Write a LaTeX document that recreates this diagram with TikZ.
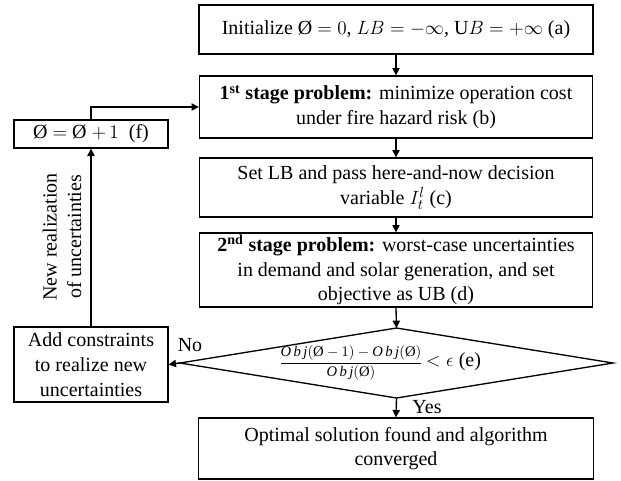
\documentclass[tikz,border=0pt]{standalone}
\usepackage{amsmath}
\usepackage{fontspec}
\setmainfont{Liberation Serif}
\usetikzlibrary{arrows.meta,shapes.geometric}
\newcommand{\Oslash}{\text{Ø}}
\newcommand{\Objv}{\mathit{O\,b\,j}}
\begin{document}
\begin{tikzpicture}[x=0.75pt,y=-0.75pt,
  box/.style={draw, line width=1pt, align=center, inner sep=0pt, font=\fontsize{15}{18.5}\selectfont},
  lbl/.style={inner sep=0pt, font=\fontsize{15}{18.5}\selectfont},
  arr/.style={line width=1pt, -{Triangle[length=5.5pt,width=5.5pt]}}]
\useasboundingbox (0,0) rectangle (621,480);
\node[box, minimum width=295.5pt, minimum height=36.75pt] (a) at (396,29.5)
  {Initialize \Oslash{} $=0$, $LB=-\infty$, U$B=+\infty$ (a)};
\node[box, minimum width=294.75pt, minimum height=46.5pt] (b) at (396,107)
  {\textbf{1\textsuperscript{st} stage problem:} minimize operation cost\\under fire hazard risk (b)};
\node[box, minimum width=294.75pt, minimum height=44.25pt] (c) at (396,187.5)
  {Set LB and pass here-and-now decision\\variable $I_t^l$ (c)};
\node[box, minimum width=294.75pt, minimum height=55.5pt] (d) at (396,270)
  {\textbf{2\textsuperscript{nd} stage problem:} worst-case uncertainties\\in demand and solar generation, and set\\objective as UB (d)};
\node[draw, line width=1pt, diamond, inner sep=0pt, outer sep=0pt, minimum width=324.75pt, minimum height=52.5pt] (e) at (396.5,363) {};
\node[lbl] (etext) at (380,363)
  {{\fontsize{11}{12}\selectfont$\displaystyle\frac{\Objv(\Oslash-1)-\Objv(\Oslash)}{\Objv(\Oslash)}$}\,$<\epsilon$ (e)};
\node[box, minimum width=296.25pt, minimum height=45.75pt] (g) at (396,448.5)
  {Optimal solution found and algorithm\\converged};
\node[box, minimum width=115.5pt, minimum height=21pt] (f) at (91,134)
  {\Oslash{} $=$ \Oslash{} $+\,1$ \ (f)};
\node[box, minimum width=115.5pt, minimum height=56.25pt] (h) at (91,364.5)
  {Add constraints\\to realize new\\uncertainties};
\node[lbl, rotate=90, align=center] (r) at (62,237) {New realization\\of uncertainties};
\node[lbl] (no) at (190,345) {No};
\node[lbl] (yes) at (427,407) {Yes};
\draw[arr] (a) -- (b);
\draw[arr] (b) -- (c);
\draw[arr] (c) -- (d);
\draw[arr] (d.south) -- (e.north);
\draw[arr] (e.south) -- (g.north);
\draw[arr] (e.west) -- (h.east);
\draw[arr] (h) -- (f);
\draw[arr] (f.north) |- (b.west);
\end{tikzpicture}
\end{document}
